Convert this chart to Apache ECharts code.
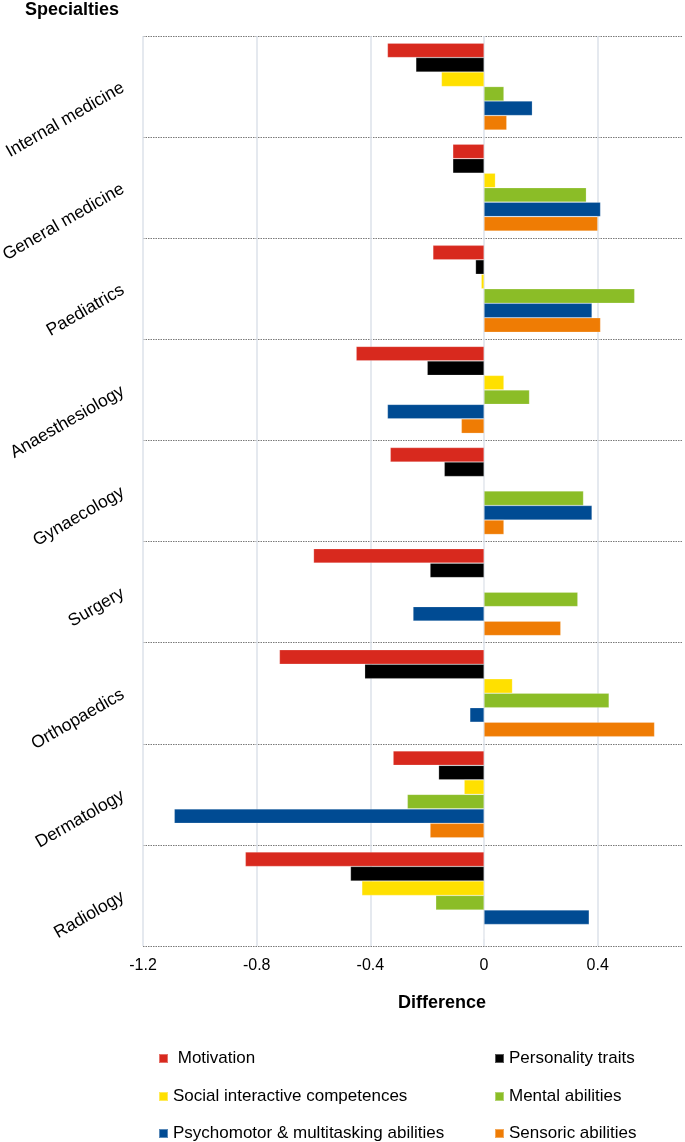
<!DOCTYPE html>
<html>
<head>
<meta charset="utf-8">
<script src="https://cdn.jsdelivr.net/npm/echarts@6/dist/echarts.min.js"></script>
<style>
html,body{margin:0;padding:0;background:#fff;}
#chart{width:685px;height:1142px;}
</style>
</head>
<body>
<div id="chart"></div>
<script>
const categories = ["Internal medicine","General medicine","Paediatrics","Anaesthesiology","Gynaecology","Surgery","Orthopaedics","Dermatology","Radiology"];
const seriesNames = ["Motivation","Personality traits","Social interactive competences","Mental abilities","Psychomotor & multitasking abilities","Sensoric abilities"];
const motivation   = [-0.34,-0.11,-0.18,-0.45,-0.33,-0.60,-0.72,-0.32,-0.84];
const personality  = [-0.24,-0.11,-0.03,-0.20,-0.14,-0.19,-0.42,-0.16,-0.47];
const social       = [-0.15, 0.04,-0.01, 0.07, 0.00, 0.00, 0.10,-0.07,-0.43];
const mental       = [ 0.07, 0.36, 0.53, 0.16, 0.35, 0.33, 0.44,-0.27,-0.17];
const psychomotor  = [ 0.17, 0.41, 0.38,-0.34, 0.38,-0.25,-0.05,-1.09, 0.37];
const sensoric     = [ 0.08, 0.40, 0.41,-0.08, 0.07, 0.27, 0.60,-0.19, 0.00];
const xTicks = [-1.2,-0.8,-0.4,0,0.4];

const colors = ["#d8291e","#000000","#ffe000","#8bbd27","#004b93","#ef7c04"];
const values = [motivation, personality, social, mental, psychomotor, sensoric];
const FONT = "'Liberation Sans', Arial, Helvetica, sans-serif";

// legend placement: [left, top] per series (2 columns x 3 rows)
const legendPos = [[158,1050],[494,1050],[158,1088],[494,1088],[158,1125],[494,1125]];

const chart = echarts.init(document.getElementById('chart'), null, {renderer:'canvas'});
const option = {
  animation: false,
  backgroundColor: '#ffffff',
  textStyle: {fontFamily: FONT},
  title: [
    {text: 'Specialties', left: 25, top: 1, padding: 0,
     textStyle: {fontFamily: FONT, fontSize: 18, fontWeight: 'bold', color: '#000'}},
    {text: 'Difference', left: 442, top: 994, padding: 0, textAlign: 'center',
     textStyle: {fontFamily: FONT, fontSize: 18, fontWeight: 'bold', color: '#000'}}
  ],
  grid: {left: 143, right: 2, top: 36, bottom: 196, containLabel: false, outerBoundsMode: 'none'},
  legend: seriesNames.map((n, i) => ({
    left: legendPos[i][0], top: legendPos[i][1], padding: 0,
    itemWidth: 9, itemHeight: 9, icon: 'rect', data: [n],
    formatter: name => name === 'Motivation' ? ' ' + name : name,
    textStyle: {fontFamily: FONT, fontSize: 17, color: '#000'}
  })),
  xAxis: {
    type: 'value', min: -1.2, max: 0.7, interval: 0.4,
    axisLine: {show: false}, axisTick: {show: false},
    axisLabel: {showMaxLabel: false, margin: 12, fontFamily: FONT, fontSize: 16, color: '#000',
      formatter: v => xTicks.some(t => Math.abs(t - v) < 1e-9) ? String(parseFloat(v.toFixed(1))) : ''},
    splitLine: {show: true, showMaxLine: false, lineStyle: {color: '#dde2ea', width: 1.5}}
  },
  yAxis: {
    type: 'category', data: categories, inverse: true,
    axisLine: {show: false, onZero: false}, axisTick: {show: false},
    axisLabel: {rotate: 30, margin: 20, padding: [22,0,0,0], fontFamily: FONT, fontSize: 17.5, color: '#000'},
    splitLine: {show: true, lineStyle: {color: '#7a7a7a', type: [1.5,1], width: 1}}
  },
  series: seriesNames.map((name, i) => ({
    name: name, type: 'bar', data: values[i],
    barGap: '0%', barCategoryGap: '14%',
    itemStyle: {color: colors[i], borderColor: 'rgba(255,255,255,0.35)', borderWidth: 0.6}
  }))
};
chart.setOption(option);
</script>
</body>
</html>
